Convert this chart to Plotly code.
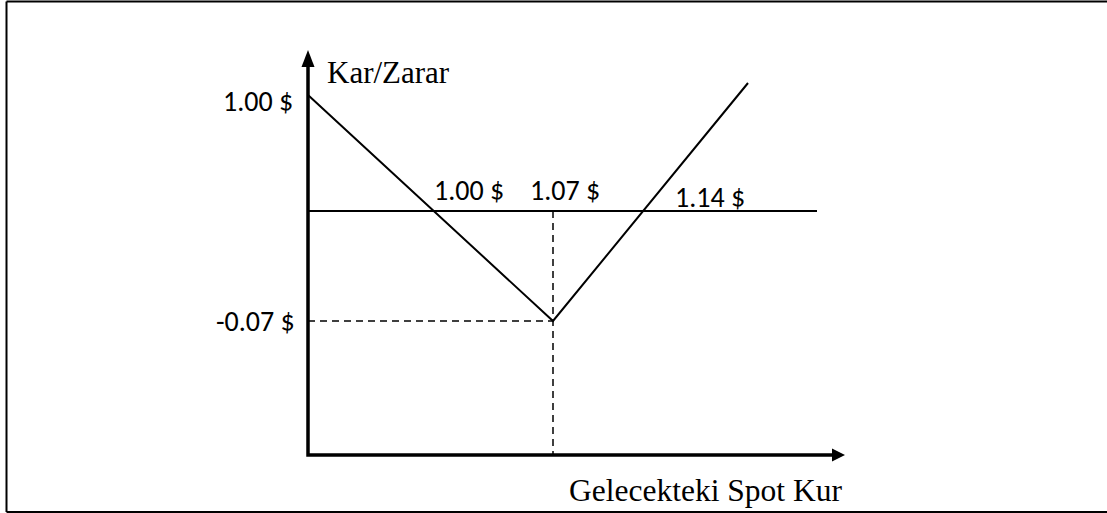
import plotly.graph_objects as go

# ---- Schematic diagram data (diagram units; origin of P/L at zero line, x=0 at vertical axis) ----
payoff_x = [0, 245, 440]          # V-shaped profit/loss line
payoff_y = [116, -110, 128]
zero_line_x = [0, 509]            # break-even (zero P/L) line
strike_x = 245                    # 1.07 $ strike
min_pl_y = -110                   # -0.07 $ loss
axis_bottom_y = -244              # horizontal axis level
x_axis_end = 537                  # tip of horizontal arrow
y_axis_end = 161                  # tip of vertical arrow

x_tick_labels = ["1.00 $", "1.07 $", "1.14 $"]
x_tick_label_x = [124, 220, 365]
x_tick_label_y = [21, 21, 14]

y_tick_labels = ["1.00 $", "-0.07 $"]
y_tick_label_x = [-13, -11]
y_tick_label_y = [110, -110]

y_title = "Kar/Zarar"
x_title = "Gelecekteki Spot Kur"

W, H = 1107, 513
X0_PX, Y0_PX = 308, 211   # pixel of diagram origin
SERIF = "Times New Roman, Liberation Serif, serif"
SANS = "Calibri, Carlito, Lato, sans-serif"

fig = go.Figure()

# payoff line
fig.add_trace(go.Scatter(x=payoff_x, y=payoff_y, mode="lines",
                         line=dict(color="black", width=2), hoverinfo="skip"))
# zero line
fig.add_trace(go.Scatter(x=zero_line_x, y=[0, 0], mode="lines",
                         line=dict(color="black", width=2), hoverinfo="skip"))
# dashed guides
fig.add_trace(go.Scatter(x=[0, strike_x], y=[min_pl_y, min_pl_y], mode="lines",
                         line=dict(color="black", width=1.5, dash="7px,5px"), hoverinfo="skip"))
fig.add_trace(go.Scatter(x=[strike_x, strike_x], y=[0, axis_bottom_y], mode="lines",
                         line=dict(color="black", width=1.5, dash="7px,5px"), hoverinfo="skip"))
# axes
fig.add_trace(go.Scatter(x=[0, 0, x_axis_end - 10], y=[y_axis_end - 14, axis_bottom_y, axis_bottom_y],
                         mode="lines", line=dict(color="black", width=3.5), hoverinfo="skip"))

shapes = []
# arrow heads
shapes.append(dict(type="path", xref="x", yref="y",
                   path=f"M 0 {y_axis_end} L -6.5 {y_axis_end-17} L 6.5 {y_axis_end-17} Z",
                   fillcolor="black", line=dict(width=0)))
shapes.append(dict(type="path", xref="x", yref="y",
                   path=f"M {x_axis_end} {axis_bottom_y} L {x_axis_end-13} {axis_bottom_y+6.5} "
                        f"L {x_axis_end-13} {axis_bottom_y-6.5} Z",
                   fillcolor="black", line=dict(width=0)))
# outer frame: top, left and bottom edges (right edge is outside the picture)
fx0, fy_top, fy_bot = 6.5 / W, 1 - 1.5 / H, 1 - 512 / H
for x0, y0, x1, y1 in [(fx0, fy_top, 1.0, fy_top), (fx0, fy_top, fx0, fy_bot), (fx0, fy_bot, 1.0, fy_bot)]:
    shapes.append(dict(type="line", xref="paper", yref="paper", x0=x0, y0=y0, x1=x1, y1=y1,
                       line=dict(color="black", width=2)))

annotations = []
for t, x, y in zip(x_tick_labels, x_tick_label_x, x_tick_label_y):
    annotations.append(dict(x=x, y=y, text=t, showarrow=False, xanchor="left", yanchor="middle",
                            font=dict(family=SANS, size=28, color="black")))
for t, x, y in zip(y_tick_labels, y_tick_label_x, y_tick_label_y):
    annotations.append(dict(x=x, y=y, text=t, showarrow=False, xanchor="right", yanchor="middle",
                            font=dict(family=SANS, size=28, color="black")))
annotations.append(dict(x=17, y=139, text=y_title, showarrow=False, xanchor="left", yanchor="middle",
                        font=dict(family=SERIF, size=31, color="black")))
annotations.append(dict(x=259, y=-279, text=x_title, showarrow=False, xanchor="left", yanchor="middle",
                        font=dict(family=SERIF, size=31.5, color="black")))

fig.update_layout(
    width=W, height=H, margin=dict(l=0, r=0, t=0, b=0),
    paper_bgcolor="white", plot_bgcolor="white", showlegend=False,
    xaxis=dict(range=[-X0_PX, W - X0_PX], visible=False, fixedrange=True),
    yaxis=dict(range=[Y0_PX - H, Y0_PX], visible=False, fixedrange=True),
    shapes=shapes, annotations=annotations,
)

fig.write_html("out.html", config={"displayModeBar": False},
               post_script="document.body.style.margin='0';document.body.style.padding='0';"
                           "document.body.style.overflow='hidden';")
